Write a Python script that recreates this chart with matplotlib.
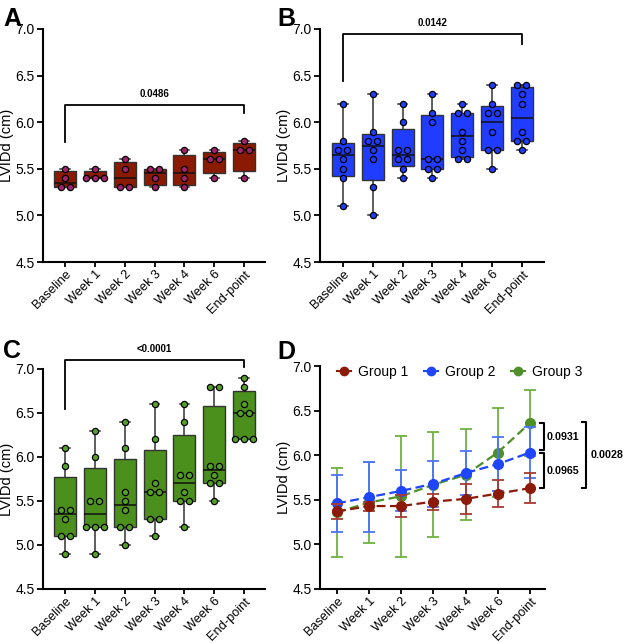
import numpy as np
import matplotlib
matplotlib.use('Agg')
import matplotlib.pyplot as plt
from matplotlib.lines import Line2D

plt.rcParams['font.family'] = ['Liberation Sans', 'DejaVu Sans']

# datos
weeks = ['Baseline', 'Week 1', 'Week 2', 'Week 3', 'Week 4', 'Week 6', 'End-point']

group1 = [[5.5, 5.4, 5.3, 5.3],
          [5.5, 5.4, 5.4, 5.4],
          [5.6, 5.5, 5.3, 5.3],
          [5.5, 5.5, 5.4, 5.3],
          [5.7, 5.5, 5.4, 5.3],
          [5.7, 5.6, 5.6, 5.4],
          [5.8, 5.7, 5.7, 5.4]]

group2 = [[6.2, 5.8, 5.7, 5.7, 5.6, 5.5, 5.4, 5.1],
          [6.3, 5.9, 5.8, 5.8, 5.7, 5.6, 5.3, 5.0],
          [6.2, 6.0, 5.7, 5.7, 5.6, 5.6, 5.5, 5.4],
          [6.3, 6.1, 6.0, 5.6, 5.6, 5.5, 5.5, 5.4],
          [6.2, 6.1, 6.1, 5.9, 5.8, 5.7, 5.6, 5.6],
          [6.4, 6.2, 6.1, 6.1, 5.9, 5.7, 5.7, 5.5],
          [6.4, 6.4, 6.3, 6.2, 5.9, 5.8, 5.8, 5.7]]

group3 = [[6.1, 5.9, 5.4, 5.4, 5.3, 5.1, 5.1, 4.9],
          [6.3, 6.0, 5.5, 5.5, 5.2, 5.2, 5.2, 4.9],
          [6.4, 6.1, 5.6, 5.5, 5.4, 5.2, 5.2, 5.0],
          [6.6, 6.2, 5.7, 5.6, 5.6, 5.3, 5.3, 5.1],
          [6.6, 6.4, 5.8, 5.8, 5.6, 5.5, 5.5, 5.2],
          [6.8, 6.8, 5.9, 5.9, 5.8, 5.7, 5.7, 5.5],
          [6.9, 6.8, 6.6, 6.5, 6.5, 6.2, 6.2, 6.2]]

# panel D: media y desvio
g1_mean = [5.37, 5.43, 5.43, 5.48, 5.51, 5.57, 5.63]
g1_sd = [0.08, 0.05, 0.12, 0.09, 0.17, 0.15, 0.17]
g2_mean = [5.46, 5.53, 5.60, 5.68, 5.80, 5.90, 6.03]
g2_sd = [0.32, 0.39, 0.23, 0.26, 0.25, 0.30, 0.29]
g3_mean = [5.36, 5.47, 5.54, 5.67, 5.78, 6.03, 6.36]
g3_sd = [0.50, 0.45, 0.68, 0.59, 0.51, 0.50, 0.37]

p_values = ['0.0486', '0.0142', '<0.0001']
d_p_values = ['0.0931', '0.0965', '0.0028']

W, H = 625, 643
fig = plt.figure(figsize=(W / 100, H / 100), dpi=100)


def px_axes(left, right, top, bottom):
    return fig.add_axes([left / W, 1 - bottom / H, (right - left) / W, (bottom - top) / H])


def style_axes(ax, xlim):
    ax.set_ylim(4.5, 7.0)
    ax.set_xlim(*xlim)
    ax.set_yticks([4.5, 5.0, 5.5, 6.0, 6.5, 7.0])
    ax.set_yticklabels(['%.1f' % v for v in [4.5, 5.0, 5.5, 6.0, 6.5, 7.0]], fontsize=10)
    ax.set_xticks(range(len(weeks)))
    ax.set_xticklabels(weeks, rotation=45, ha='right', va='top',
                       rotation_mode='anchor', fontsize=9.2)
    for s in ['top', 'right']:
        ax.spines[s].set_visible(False)
    for s in ['left', 'bottom']:
        ax.spines[s].set_linewidth(1.5)
    ax.tick_params(width=1.3, length=4, color='black', pad=2)
    ax.tick_params(axis='x', pad=1, length=3.5)
    ax.set_ylabel('LVIDd (cm)', fontsize=10.5, labelpad=1)
    ax.patch.set_alpha(0)


def box_panel(ax, data, fill, dot):
    stats = []
    for vals in data:
        v = np.array(vals)
        q1, med, q3 = np.percentile(v, [25, 50, 75], method='weibull')
        stats.append(dict(med=med, q1=q1, q3=q3, whislo=v.min(), whishi=v.max(), fliers=[]))
    ax.bxp(stats, positions=range(len(data)), widths=0.74, capwidths=0.32, patch_artist=True,
           showfliers=False, manage_ticks=False,
           boxprops=dict(facecolor=fill, edgecolor='#333333', linewidth=1.0),
           whiskerprops=dict(color='#333333', linewidth=1.1),
           capprops=dict(color='#333333', linewidth=1.1),
           medianprops=dict(color='#111111', linewidth=1.1))
    for i, vals in enumerate(data):
        uniq, counts = np.unique(vals, return_counts=True)
        for u, k in zip(uniq, counts):
            offs = (np.arange(k) - (k - 1) / 2) * 0.3
            ax.scatter(i + offs, [u] * k, s=20, color=dot, edgecolors='black',
                       linewidths=0.9, zorder=5, clip_on=False)


def bracket(ax, y, yl, yr, text, ty):
    ax.plot([0, 0, 6, 6], [yl, y, y, yr], color='black', lw=1.3, clip_on=False)
    ax.text(3, ty, text, ha='center', va='center', fontsize=7, fontweight='bold')


# A
axA = px_axes(43, 265, 29, 262)
style_axes(axA, (-0.74, 6.70))
box_panel(axA, group1, '#8a1a02', '#a3236e')
bracket(axA, 6.18, 5.79, 6.10, p_values[0], 6.30)

# B
axB = px_axes(320, 544, 29, 262)
style_axes(axB, (-0.77, 6.74))
box_panel(axB, group2, '#1f3cff', '#1f3cff')
bracket(axB, 6.95, 6.44, 6.84, p_values[1], 7.06)

# C
axC = px_axes(43, 265, 369, 589)
style_axes(axC, (-0.74, 6.70))
box_panel(axC, group3, '#4b8f1c', '#55a326')
bracket(axC, 7.10, 6.55, 7.02, p_values[2], 7.23)

# D
axD = px_axes(320, 545, 366, 589)
style_axes(axD, (-0.53, 6.47))
x = np.arange(len(weeks))
series = [(g3_mean, g3_sd, '#4e8f2a', '#6cb33f', 'Group 3', 3),
          (g2_mean, g2_sd, '#1f45ff', '#4a74ff', 'Group 2', 4),
          (g1_mean, g1_sd, '#8c1a08', '#a83a32', 'Group 1', 5)]
for m, sd, c, ec, lab, z in series:
    axD.errorbar(x, m, yerr=sd, fmt='none', ecolor=ec, elinewidth=1.3, capsize=4,
                 capthick=1.3, zorder=z, clip_on=False)
    axD.plot(x, m, ls=(0, (4, 2)), lw=1.6, color=c, marker='o', markersize=7,
             markeredgecolor=c, zorder=z + 0.5, clip_on=False)

handles = [Line2D([], [], color=c, marker='o', markersize=6, lw=1.5)
           for c in ['#8c1a08', '#1f45ff', '#4e8f2a']]
axD.legend(handles, ['Group 1', 'Group 2', 'Group 3'], ncol=3, frameon=False,
           loc='center left', bbox_to_anchor=(0.0756, 0.973), borderaxespad=0,
           borderpad=0, handlelength=1.0, handletextpad=0.5, columnspacing=1.15,
           fontsize=10)

# corchetes del panel D
def side_bracket(ax, x0, x1, y0, y1, text, tx):
    ax.plot([x0, x1, x1, x0], [y0, y0, y1, y1], color='black', lw=1.5, clip_on=False)
    ax.text(tx, (y0 + y1) / 2, text, ha='left', va='center', fontsize=7.7,
            fontweight='bold', clip_on=False)

side_bracket(axD, 6.31, 6.44, 6.356, 6.063, d_p_values[0], 6.52)
side_bracket(axD, 6.31, 6.44, 6.02, 5.63, d_p_values[1], 6.52)
side_bracket(axD, 7.61, 7.76, 6.367, 5.63, d_p_values[2], 7.88)

# letras de panel
for lab, px, py in [('A', 3, 26), ('B', 277, 26), ('C', 3, 358), ('D', 277, 359)]:
    fig.text(px / W, 1 - py / H, lab, fontsize=18, fontweight='bold', va='baseline', ha='left')

plt.savefig('out.png', dpi=100)
